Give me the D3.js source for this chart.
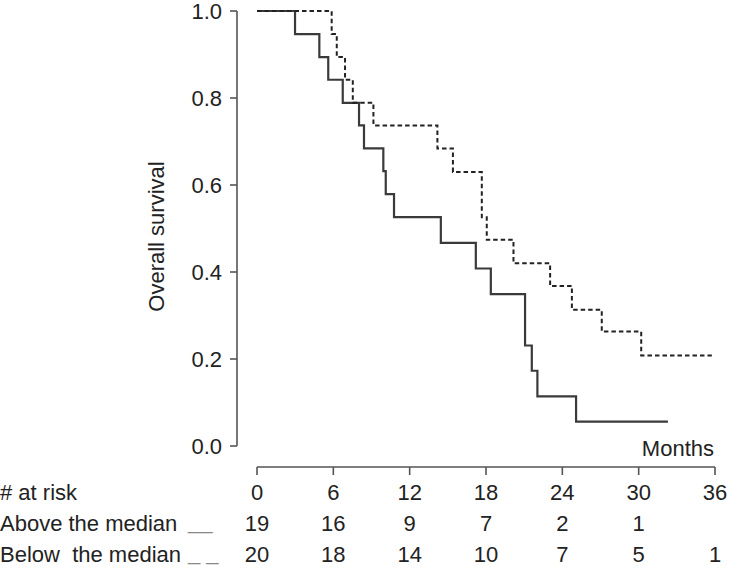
<!DOCTYPE html>
<html>
<head>
<meta charset="utf-8">
<script src="https://cdn.jsdelivr.net/npm/d3@7"></script>
<style>
  html, body { margin: 0; padding: 0; background: #fff; }
  svg text { font-family: "Liberation Sans", Arial, Helvetica, sans-serif; fill: #222; }
</style>
</head>
<body>
<svg id="chart" width="729" height="579"></svg>
<script>
// ---- Data ----
const aboveTimes = [0, 2.99, 4.9, 5.6, 6.74, 8.02, 8.41, 9.93, 10.12, 10.77, 14.45, 17.2, 18.38, 21.07, 21.6, 22.04, 25.08];
const aboveSurv  = [1.0, 0.947, 0.894, 0.842, 0.789, 0.737, 0.684, 0.632, 0.579, 0.526, 0.467, 0.408, 0.349, 0.231, 0.173, 0.114, 0.056];
const aboveEnd = 32.3;

const belowTimes = [0, 5.87, 6.27, 6.92, 7.53, 9.15, 14.18, 15.4, 17.67, 18.06, 20.16, 23.04, 24.75, 27.1, 30.2];
const belowSurv  = [1.0, 0.947, 0.894, 0.842, 0.789, 0.737, 0.684, 0.630, 0.526, 0.474, 0.420, 0.368, 0.313, 0.263, 0.208];
const belowEnd = 35.75;

const xTicks = [0, 6, 12, 18, 24, 30, 36];
const yTicks = [0.0, 0.2, 0.4, 0.6, 0.8, 1.0];
const riskLabels = ["# at risk", "Above the median", "Below  the median"];
const riskMarks = ["", "__", "_ _"];
const riskAbove = [19, 16, 9, 7, 2, 1, null];
const riskBelow = [20, 18, 14, 10, 7, 5, 1];

// ---- Layout ----
const svg = d3.select("#chart");
const x = d3.scaleLinear().domain([0, 36]).range([257, 715]);
const y = d3.scaleLinear().domain([0, 1]).range([446, 11]);
const yAxisX = 237;
const xAxisY = 467;
const fontSize = 22;
const axisColor = "#555";

// Y axis
const yAxis = svg.append("g");
yAxis.append("line")
  .attr("x1", yAxisX).attr("x2", yAxisX)
  .attr("y1", y(0)).attr("y2", y(1))
  .attr("stroke", axisColor).attr("stroke-width", 1.6);
yAxis.selectAll("line.tick").data(yTicks).enter().append("line")
  .attr("class", "tick")
  .attr("x1", yAxisX - 7).attr("x2", yAxisX)
  .attr("y1", d => y(d)).attr("y2", d => y(d))
  .attr("stroke", axisColor).attr("stroke-width", 1.6);
yAxis.selectAll("text").data(yTicks).enter().append("text")
  .attr("x", yAxisX - 15).attr("y", d => y(d))
  .attr("dy", "0.36em")
  .attr("text-anchor", "end")
  .attr("font-size", fontSize)
  .text(d => d3.format(".1f")(d));

svg.append("text")
  .attr("transform", `translate(164, ${(y(0) + y(1)) / 2 + 8}) rotate(-90)`)
  .attr("text-anchor", "middle")
  .attr("font-size", fontSize)
  .text("Overall survival");

// X axis
const xAxis = svg.append("g");
xAxis.append("line")
  .attr("x1", x(0)).attr("x2", x(36))
  .attr("y1", xAxisY).attr("y2", xAxisY)
  .attr("stroke", axisColor).attr("stroke-width", 1.6);
xAxis.selectAll("line.tick").data(xTicks).enter().append("line")
  .attr("class", "tick")
  .attr("x1", d => x(d)).attr("x2", d => x(d))
  .attr("y1", xAxisY).attr("y2", xAxisY + 8)
  .attr("stroke", axisColor).attr("stroke-width", 1.6);

svg.append("text")
  .attr("x", x(36) - 1).attr("y", 456)
  .attr("text-anchor", "end")
  .attr("font-size", fontSize)
  .text("Months");

// Survival curves
const line = d3.line().x(d => x(d[0])).y(d => y(d[1])).curve(d3.curveStepAfter);
function pts(times, surv, end) {
  const p = times.map((t, i) => [t, surv[i]]);
  p.push([end, surv[surv.length - 1]]);
  return p;
}
svg.append("path")
  .attr("d", line(pts(aboveTimes, aboveSurv, aboveEnd)))
  .attr("fill", "none").attr("stroke", "#3a3a3a").attr("stroke-width", 2.2);
svg.append("path")
  .attr("d", line(pts(belowTimes, belowSurv, belowEnd)))
  .attr("fill", "none").attr("stroke", "#222").attr("stroke-width", 2)
  .attr("stroke-dasharray", "4.5,3");

// Risk table
const rowY = [500, 531, 562];
const rows = svg.append("g");
rows.selectAll("text.lab").data(riskLabels).enter().append("text")
  .attr("class", "lab")
  .attr("x", 0).attr("y", (d, i) => rowY[i])
  .attr("font-size", fontSize)
  .style("white-space", "pre")
  .text(d => d);
rows.selectAll("text.mark").data(riskMarks).enter().append("text")
  .attr("class", "mark")
  .attr("x", 188).attr("y", (d, i) => rowY[i] - 2)
  .attr("font-size", fontSize)
  .style("white-space", "pre")
  .style("fill", "#888")
  .text(d => d);
rows.selectAll("text.tk").data(xTicks).enter().append("text")
  .attr("class", "tk")
  .attr("x", d => x(d)).attr("y", rowY[0])
  .attr("text-anchor", "middle")
  .attr("font-size", fontSize)
  .text(d => d);
rows.selectAll("text.ab").data(riskAbove).enter().append("text")
  .attr("class", "ab")
  .attr("x", (d, i) => x(xTicks[i])).attr("y", rowY[1])
  .attr("text-anchor", "middle")
  .attr("font-size", fontSize)
  .text(d => d == null ? "" : d);
rows.selectAll("text.bl").data(riskBelow).enter().append("text")
  .attr("class", "bl")
  .attr("x", (d, i) => x(xTicks[i])).attr("y", rowY[2])
  .attr("text-anchor", "middle")
  .attr("font-size", fontSize)
  .text(d => d);
</script>
</body>
</html>
